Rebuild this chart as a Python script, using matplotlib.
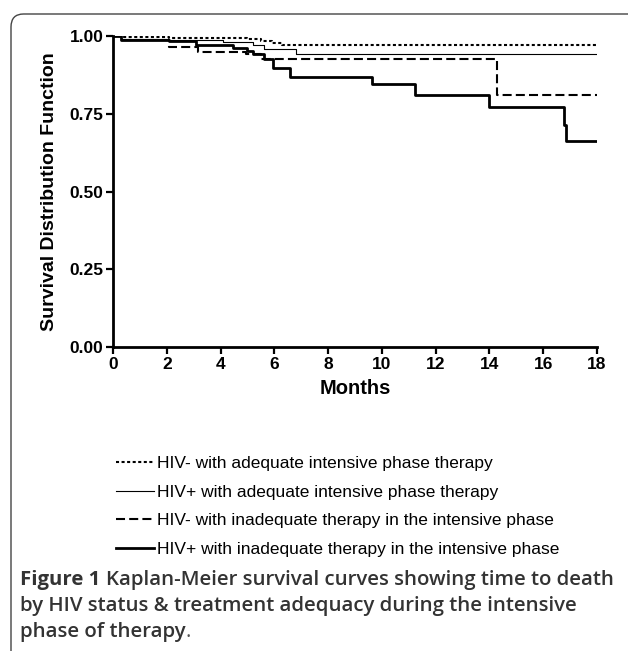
import matplotlib
matplotlib.use("Agg")
import matplotlib.pyplot as plt
from matplotlib.patches import FancyBboxPatch
from matplotlib.lines import Line2D

plt.rcParams['lines.scale_dashes'] = False

# ---- data ----
x_end = 18
hivneg_adeq_t = [0, 0.3, 2.1, 5.0, 5.5, 5.9, 6.3]
hivneg_adeq_s = [1.0, 0.997, 0.994, 0.99, 0.985, 0.978, 0.972]

hivpos_adeq_t = [0, 0.3, 2.1, 4.1, 5.2, 5.6, 6.8]
hivpos_adeq_s = [1.0, 0.99, 0.987, 0.98, 0.97, 0.958, 0.943]

hivneg_inad_t = [0, 0.3, 2.1, 3.15, 4.95, 5.5, 14.27]
hivneg_inad_s = [1.0, 0.987, 0.964, 0.949, 0.942, 0.927, 0.81]

hivpos_inad_t = [0, 0.3, 2.1, 3.1, 4.45, 5.0, 5.2, 5.6, 5.95, 6.6, 9.65, 11.25, 14.0, 16.78, 16.85]
hivpos_inad_s = [1.0, 0.988, 0.985, 0.97, 0.96, 0.953, 0.942, 0.925, 0.897, 0.869, 0.846, 0.811, 0.771, 0.715, 0.662]

labels = ["HIV- with adequate intensive phase therapy",
          "HIV+ with adequate intensive phase therapy",
          "HIV- with inadequate therapy in the intensive phase",
          "HIV+ with inadequate therapy in the intensive phase"]
x_ticks = [0, 2, 4, 6, 8, 10, 12, 14, 16, 18]
y_ticks = [0.00, 0.25, 0.50, 0.75, 1.00]
y_tick_labels = ["0.00", "0.25", "0.50", "0.75", "1.00"]

styles = [dict(color='black', lw=1.5, dashes=(2.2, 1.8)),
          dict(color='black', lw=0.8, linestyle='-'),
          dict(color='black', lw=1.5, dashes=(6.5, 3.0)),
          dict(color='black', lw=2.0, linestyle='-')]

W, H = 628, 651
fig = plt.figure(figsize=(W / 100, H / 100), dpi=100)
fig.patch.set_facecolor('white')

# rounded panel border
border = FancyBboxPatch((11 / W, -0.05), 1.2, 1 - 14 / H + 0.05,
                        boxstyle="round,pad=0,rounding_size=0.02",
                        transform=fig.transFigure, fill=False,
                        edgecolor='#444444', lw=1.0, clip_on=False)
fig.patches.append(border)

ax = fig.add_axes([113 / W, 1 - 347 / H, (597 - 113) / W, (347 - 36) / H])

series = [(hivneg_adeq_t, hivneg_adeq_s), (hivpos_adeq_t, hivpos_adeq_s),
          (hivneg_inad_t, hivneg_inad_s), (hivpos_inad_t, hivpos_inad_s)]
for (t, s), st in zip(series, styles):
    ax.step(list(t) + [x_end], list(s) + [s[-1]], where='post', **st)

ax.set_xlim(0, 18)
ax.set_ylim(0, 1.0)
ax.set_xticks(x_ticks)
ax.set_yticks(y_ticks)
ax.set_yticklabels(y_tick_labels)
for sp in ['top', 'right']:
    ax.spines[sp].set_visible(False)
for sp in ['left', 'bottom']:
    ax.spines[sp].set_linewidth(2.0)
    ax.spines[sp].set_capstyle('projecting')
ax.tick_params(axis='both', direction='out', length=5, width=1.6,
               labelsize=12.5, pad=2)
for lab in ax.get_xticklabels() + ax.get_yticklabels():
    lab.set_fontweight('bold')
    lab.set_family('Liberation Sans')
ax.set_xlabel("Months", fontsize=14.5, fontweight='bold', family='Liberation Sans', labelpad=5)
ax.set_ylabel("Survival Distribution Function", fontsize=14, fontweight='bold',
              family='Liberation Sans', labelpad=8)

# legend
handles = [Line2D([], [], **st) for st in styles]
leg = fig.legend(handles, labels, loc='upper left',
                 bbox_to_anchor=(109 / W, 1 - 449 / H), frameon=False,
                 prop={'family': 'Liberation Sans', 'size': 12.5},
                 handlelength=2.2, handletextpad=0.15, labelspacing=0.78,
                 borderaxespad=0)

# caption
cap_color = '#333333'
fig.canvas.draw()
r = fig.canvas.get_renderer()
fs = 14.7
x0 = 20 / W
t1 = fig.text(x0, 1 - 580 / H, "Figure 1", family='Open Sans', fontweight='bold',
              fontsize=fs, color=cap_color, va='center')
bb = t1.get_window_extent(renderer=r)
fig.text(bb.x1 / W + 6 / W, 1 - 580 / H,
         "Kaplan-Meier survival curves showing time to death",
         family='Open Sans', fontweight='semibold', fontsize=fs, color=cap_color, va='center')
fig.text(x0, 1 - 606 / H, "by HIV status & treatment adequacy during the intensive",
         family='Open Sans', fontweight='semibold', fontsize=fs, color=cap_color, va='center')
t3 = fig.text(x0, 1 - 632 / H, "phase of therapy", family='Open Sans', fontweight='semibold',
              fontsize=fs, color=cap_color, va='center')
bb3 = t3.get_window_extent(renderer=r)
fig.text(bb3.x1 / W, 1 - 632 / H, ".", family='Open Sans', fontweight='normal',
         fontsize=fs, color='#555555', va='center')

fig.savefig("out.png", dpi=100, facecolor='white')
